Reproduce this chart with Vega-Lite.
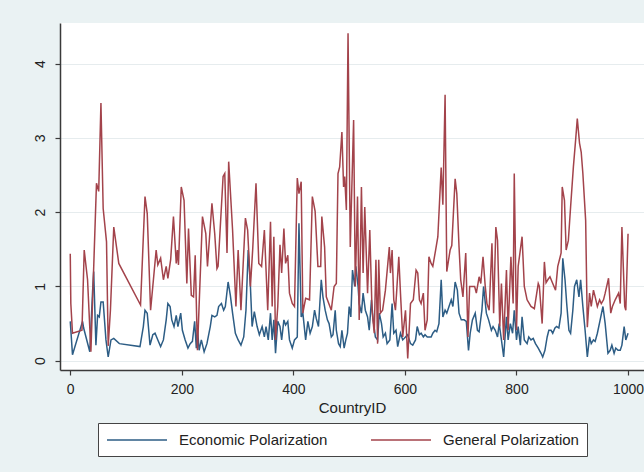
{
  "$schema": "https://vega.github.io/schema/vega-lite/v6.json",
  "width": 584,
  "height": 347,
  "autosize": {"type": "none"},
  "padding": {"left": 60, "top": 23, "right": 0, "bottom": 102},
  "background": "#eaf2f3",
  "config": {
    "view": {"fill": "white", "stroke": null},
    "font": "Liberation Sans"
  },
  "datasets": {
    "econ": [
      {"id":0,"v":0.53},{"id":4,"v":0.08},{"id":22,"v":0.53},{"id":24,"v":0.44},{"id":35,"v":0.12},{"id":40,"v":0.93},{"id":42,"v":1.2},{"id":46,"v":0.21},{"id":49,"v":0.61},{"id":52,"v":0.59},{"id":55,"v":0.79},{"id":59,"v":0.79},{"id":64,"v":0.28},{"id":68,"v":0.05},{"id":73,"v":0.28},{"id":78,"v":0.3},{"id":88,"v":0.23},{"id":125,"v":0.19},{"id":131,"v":0.46},{"id":134,"v":0.68},{"id":138,"v":0.64},{"id":143,"v":0.21},{"id":148,"v":0.35},{"id":152,"v":0.37},{"id":157,"v":0.28},{"id":162,"v":0.19},{"id":167,"v":0.28},{"id":172,"v":0.55},{"id":175,"v":0.77},{"id":179,"v":0.73},{"id":182,"v":0.55},{"id":186,"v":0.46},{"id":190,"v":0.61},{"id":193,"v":0.46},{"id":198,"v":0.64},{"id":201,"v":0.41},{"id":206,"v":0.28},{"id":211,"v":0.17},{"id":215,"v":0.23},{"id":219,"v":0.26},{"id":223,"v":0.53},{"id":226,"v":0.17},{"id":228,"v":0.44},{"id":231,"v":0.14},{"id":235,"v":0.28},{"id":240,"v":0.12},{"id":245,"v":0.23},{"id":251,"v":0.46},{"id":254,"v":0.61},{"id":259,"v":0.59},{"id":263,"v":0.61},{"id":266,"v":0.73},{"id":271,"v":0.77},{"id":275,"v":0.68},{"id":278,"v":0.73},{"id":283,"v":1.06},{"id":287,"v":0.88},{"id":291,"v":0.64},{"id":296,"v":0.37},{"id":301,"v":0.28},{"id":306,"v":0.21},{"id":311,"v":0.32},{"id":315,"v":0.68},{"id":319,"v":1.49},{"id":323,"v":1.0},{"id":326,"v":0.46},{"id":330,"v":0.66},{"id":335,"v":0.46},{"id":339,"v":0.35},{"id":344,"v":0.46},{"id":348,"v":0.32},{"id":351,"v":0.46},{"id":355,"v":0.28},{"id":359,"v":0.64},{"id":362,"v":0.28},{"id":365,"v":0.55},{"id":368,"v":0.1},{"id":372,"v":0.53},{"id":376,"v":0.46},{"id":379,"v":0.28},{"id":383,"v":0.55},{"id":386,"v":0.48},{"id":390,"v":0.53},{"id":393,"v":0.28},{"id":398,"v":0.17},{"id":402,"v":0.28},{"id":407,"v":0.32},{"id":410,"v":1.85},{"id":414,"v":0.59},{"id":417,"v":0.64},{"id":422,"v":0.28},{"id":426,"v":0.53},{"id":430,"v":0.37},{"id":434,"v":0.46},{"id":438,"v":0.68},{"id":441,"v":0.57},{"id":445,"v":0.46},{"id":450,"v":1.09},{"id":453,"v":0.86},{"id":457,"v":0.68},{"id":461,"v":0.55},{"id":464,"v":0.5},{"id":468,"v":0.32},{"id":471,"v":0.35},{"id":475,"v":0.68},{"id":477,"v":0.41},{"id":481,"v":0.23},{"id":484,"v":0.19},{"id":487,"v":0.41},{"id":491,"v":0.17},{"id":494,"v":0.28},{"id":497,"v":0.37},{"id":500,"v":0.73},{"id":503,"v":0.59},{"id":506,"v":1.22},{"id":510,"v":1.0},{"id":512,"v":1.27},{"id":516,"v":1.0},{"id":518,"v":0.77},{"id":522,"v":0.64},{"id":525,"v":0.91},{"id":529,"v":0.68},{"id":533,"v":0.59},{"id":536,"v":0.41},{"id":540,"v":0.82},{"id":543,"v":0.55},{"id":547,"v":0.32},{"id":551,"v":0.28},{"id":554,"v":0.64},{"id":558,"v":0.5},{"id":561,"v":0.32},{"id":565,"v":0.37},{"id":568,"v":0.23},{"id":573,"v":0.28},{"id":577,"v":0.77},{"id":580,"v":0.37},{"id":584,"v":0.41},{"id":587,"v":0.19},{"id":592,"v":0.37},{"id":596,"v":0.28},{"id":601,"v":0.32},{"id":605,"v":0.35},{"id":610,"v":0.23},{"id":614,"v":0.21},{"id":619,"v":0.28},{"id":622,"v":0.46},{"id":626,"v":0.35},{"id":629,"v":0.37},{"id":633,"v":0.32},{"id":636,"v":0.35},{"id":640,"v":0.32},{"id":643,"v":0.32},{"id":647,"v":0.32},{"id":650,"v":0.37},{"id":654,"v":0.41},{"id":657,"v":0.39},{"id":661,"v":0.5},{"id":665,"v":1.09},{"id":668,"v":0.59},{"id":672,"v":0.68},{"id":675,"v":0.64},{"id":679,"v":0.73},{"id":683,"v":0.82},{"id":686,"v":0.73},{"id":690,"v":1.06},{"id":694,"v":0.95},{"id":697,"v":0.64},{"id":701,"v":0.55},{"id":706,"v":0.55},{"id":710,"v":0.53},{"id":714,"v":0.14},{"id":717,"v":0.37},{"id":721,"v":0.55},{"id":726,"v":0.64},{"id":730,"v":0.41},{"id":733,"v":0.39},{"id":738,"v":0.68},{"id":741,"v":1.0},{"id":746,"v":0.64},{"id":750,"v":0.55},{"id":755,"v":0.41},{"id":758,"v":0.46},{"id":762,"v":0.41},{"id":766,"v":0.32},{"id":769,"v":0.5},{"id":773,"v":0.28},{"id":777,"v":0.05},{"id":782,"v":0.59},{"id":785,"v":0.28},{"id":789,"v":0.5},{"id":793,"v":0.37},{"id":796,"v":0.68},{"id":800,"v":0.28},{"id":803,"v":0.46},{"id":807,"v":0.21},{"id":810,"v":0.59},{"id":814,"v":0.28},{"id":819,"v":0.23},{"id":822,"v":0.32},{"id":826,"v":0.28},{"id":830,"v":0.3},{"id":834,"v":0.23},{"id":839,"v":0.17},{"id":844,"v":0.1},{"id":847,"v":0.05},{"id":851,"v":0.14},{"id":855,"v":0.32},{"id":858,"v":0.41},{"id":862,"v":0.41},{"id":865,"v":0.37},{"id":869,"v":0.44},{"id":872,"v":0.46},{"id":876,"v":0.44},{"id":880,"v":0.64},{"id":883,"v":1.38},{"id":887,"v":1.09},{"id":890,"v":0.77},{"id":894,"v":0.41},{"id":897,"v":0.37},{"id":901,"v":0.68},{"id":904,"v":1.0},{"id":908,"v":1.09},{"id":912,"v":0.86},{"id":915,"v":1.09},{"id":919,"v":0.73},{"id":923,"v":0.41},{"id":927,"v":0.05},{"id":931,"v":0.32},{"id":934,"v":0.23},{"id":938,"v":0.28},{"id":941,"v":0.26},{"id":945,"v":0.37},{"id":950,"v":0.55},{"id":955,"v":0.73},{"id":959,"v":0.5},{"id":964,"v":0.1},{"id":968,"v":0.14},{"id":971,"v":0.21},{"id":975,"v":0.1},{"id":978,"v":0.17},{"id":982,"v":0.14},{"id":986,"v":0.14},{"id":989,"v":0.21},{"id":993,"v":0.46},{"id":996,"v":0.28},{"id":1000,"v":0.37}
    ],
    "gen": [
      {"id":0,"v":1.44},{"id":1,"v":0.77},{"id":4,"v":0.37},{"id":21,"v":0.41},{"id":25,"v":1.49},{"id":31,"v":1.09},{"id":37,"v":0.12},{"id":47,"v":2.39},{"id":51,"v":2.28},{"id":55,"v":3.47},{"id":59,"v":2.05},{"id":65,"v":1.6},{"id":68,"v":0.2},{"id":72,"v":0.68},{"id":78,"v":1.8},{"id":87,"v":1.31},{"id":126,"v":0.75},{"id":134,"v":2.21},{"id":138,"v":1.98},{"id":144,"v":0.68},{"id":154,"v":1.49},{"id":157,"v":1.29},{"id":162,"v":1.38},{"id":167,"v":1.09},{"id":172,"v":1.27},{"id":175,"v":1.11},{"id":180,"v":1.36},{"id":185,"v":1.94},{"id":190,"v":1.31},{"id":192,"v":1.49},{"id":194,"v":1.29},{"id":199,"v":2.34},{"id":204,"v":2.16},{"id":209,"v":1.04},{"id":212,"v":1.78},{"id":217,"v":0.88},{"id":221,"v":0.86},{"id":224,"v":1.42},{"id":228,"v":0.14},{"id":237,"v":1.94},{"id":243,"v":1.71},{"id":246,"v":1.27},{"id":254,"v":2.12},{"id":259,"v":1.71},{"id":263,"v":1.24},{"id":265,"v":1.27},{"id":274,"v":2.48},{"id":277,"v":2.52},{"id":281,"v":1.45},{"id":284,"v":2.68},{"id":291,"v":1.76},{"id":297,"v":0.73},{"id":301,"v":1.49},{"id":306,"v":0.68},{"id":314,"v":1.92},{"id":318,"v":1.76},{"id":323,"v":1.0},{"id":327,"v":1.49},{"id":333,"v":2.39},{"id":338,"v":1.31},{"id":343,"v":1.27},{"id":348,"v":1.76},{"id":354,"v":0.68},{"id":359,"v":1.87},{"id":362,"v":0.73},{"id":365,"v":1.67},{"id":368,"v":0.28},{"id":372,"v":0.73},{"id":376,"v":1.56},{"id":379,"v":1.18},{"id":383,"v":1.78},{"id":386,"v":1.31},{"id":390,"v":1.42},{"id":393,"v":0.91},{"id":398,"v":0.77},{"id":402,"v":0.73},{"id":407,"v":2.46},{"id":410,"v":2.25},{"id":414,"v":2.41},{"id":417,"v":0.64},{"id":422,"v":0.84},{"id":429,"v":0.82},{"id":434,"v":2.21},{"id":439,"v":2.01},{"id":444,"v":1.27},{"id":449,"v":1.27},{"id":451,"v":1.94},{"id":456,"v":1.53},{"id":459,"v":0.86},{"id":468,"v":0.68},{"id":473,"v":1.0},{"id":477,"v":1.04},{"id":480,"v":2.52},{"id":483,"v":2.61},{"id":487,"v":3.08},{"id":490,"v":2.34},{"id":492,"v":2.48},{"id":495,"v":2.03},{"id":498,"v":4.41},{"id":502,"v":1.53},{"id":508,"v":3.24},{"id":511,"v":1.0},{"id":515,"v":2.21},{"id":518,"v":0.55},{"id":522,"v":2.34},{"id":525,"v":1.18},{"id":528,"v":2.07},{"id":533,"v":0.91},{"id":537,"v":1.76},{"id":541,"v":0.68},{"id":545,"v":0.37},{"id":548,"v":1.36},{"id":551,"v":0.23},{"id":553,"v":1.36},{"id":556,"v":0.64},{"id":560,"v":0.68},{"id":565,"v":0.95},{"id":572,"v":1.53},{"id":574,"v":1.18},{"id":577,"v":1.49},{"id":580,"v":0.82},{"id":583,"v":0.68},{"id":585,"v":0.91},{"id":589,"v":1.4},{"id":592,"v":0.91},{"id":596,"v":0.32},{"id":601,"v":0.68},{"id":605,"v":0.03},{"id":610,"v":0.77},{"id":615,"v":0.82},{"id":620,"v":1.22},{"id":623,"v":1.18},{"id":626,"v":0.82},{"id":629,"v":0.77},{"id":633,"v":0.91},{"id":636,"v":0.41},{"id":640,"v":0.55},{"id":643,"v":1.4},{"id":647,"v":1.31},{"id":650,"v":1.27},{"id":655,"v":1.49},{"id":659,"v":1.67},{"id":665,"v":2.6},{"id":668,"v":2.1},{"id":672,"v":3.58},{"id":675,"v":1.2},{"id":681,"v":1.49},{"id":684,"v":1.55},{"id":690,"v":2.45},{"id":693,"v":2.25},{"id":697,"v":1.53},{"id":700,"v":1.09},{"id":704,"v":0.86},{"id":709,"v":1.45},{"id":713,"v":0.32},{"id":716,"v":1.0},{"id":721,"v":1.0},{"id":725,"v":1.0},{"id":728,"v":0.91},{"id":733,"v":1.13},{"id":736,"v":1.04},{"id":740,"v":1.4},{"id":744,"v":1.0},{"id":747,"v":0.77},{"id":751,"v":0.68},{"id":756,"v":1.58},{"id":759,"v":0.64},{"id":763,"v":1.8},{"id":766,"v":1.62},{"id":770,"v":0.46},{"id":773,"v":1.04},{"id":777,"v":0.28},{"id":782,"v":1.22},{"id":785,"v":0.41},{"id":790,"v":1.4},{"id":794,"v":0.77},{"id":796,"v":2.52},{"id":800,"v":0.41},{"id":803,"v":1.27},{"id":810,"v":1.67},{"id":814,"v":1.0},{"id":819,"v":0.82},{"id":826,"v":0.73},{"id":832,"v":0.7},{"id":839,"v":1.04},{"id":841,"v":1.0},{"id":846,"v":0.5},{"id":850,"v":1.33},{"id":853,"v":1.05},{"id":857,"v":1.1},{"id":860,"v":1.13},{"id":865,"v":1.04},{"id":870,"v":0.95},{"id":874,"v":1.27},{"id":877,"v":1.36},{"id":880,"v":1.45},{"id":882,"v":2.34},{"id":886,"v":2.16},{"id":889,"v":1.49},{"id":893,"v":1.62},{"id":897,"v":2.07},{"id":902,"v":2.61},{"id":906,"v":2.97},{"id":909,"v":3.26},{"id":913,"v":2.93},{"id":916,"v":2.81},{"id":919,"v":2.52},{"id":924,"v":1.89},{"id":927,"v":0.45},{"id":931,"v":0.91},{"id":934,"v":0.73},{"id":938,"v":0.95},{"id":941,"v":0.86},{"id":945,"v":0.73},{"id":949,"v":0.82},{"id":952,"v":0.77},{"id":956,"v":0.82},{"id":959,"v":0.91},{"id":965,"v":1.11},{"id":969,"v":0.64},{"id":972,"v":0.73},{"id":977,"v":0.82},{"id":983,"v":0.91},{"id":986,"v":0.77},{"id":989,"v":1.8},{"id":994,"v":0.73},{"id":996,"v":0.68},{"id":1000,"v":1.71}
    ]
  },
  "encoding": {
    "x": {
      "field": "id", "type": "quantitative",
      "scale": {"domain": [-18.4, 1028.6], "nice": false, "zero": false},
      "axis": {
        "title": "CountryID", "values": [0, 200, 400, 600, 800, 1000], "format": "d", "grid": false,
        "domainColor": "#3a3a3a", "domainWidth": 1.5, "tickColor": "#3a3a3a", "tickWidth": 1.2, "tickSize": 5,
        "labelFontSize": 14, "labelColor": "#222222", "labelPadding": 7, "labelFlush": false,
        "titleFontSize": 15, "titleFontWeight": "normal", "titleColor": "#222222", "titlePadding": 4
      }
    },
    "y": {
      "field": "v", "type": "quantitative",
      "scale": {"domain": [-0.125, 4.547], "nice": false, "zero": false},
      "axis": {
        "title": null, "values": [0, 1, 2, 3, 4], "grid": true, "gridColor": "#e6ecee", "gridWidth": 1,
        "domainColor": "#3a3a3a", "domainWidth": 1.5, "tickColor": "#3a3a3a", "tickWidth": 1.2, "tickSize": 5,
        "labelAngle": -90, "labelAlign": "center", "labelBaseline": "bottom", "labelPadding": 8,
        "labelFontSize": 14, "labelColor": "#222222"
      }
    }
  },
  "layer": [
    {
      "data": {"name": "econ"},
      "mark": {"type": "line", "strokeWidth": 1.5},
      "encoding": {
        "color": {
          "datum": "Economic Polarization", "type": "nominal",
          "scale": {"domain": ["Economic Polarization", "General Polarization"], "range": ["#2d5d85", "#a3434b"]},
          "legend": {
            "orient": "none", "legendX": 38, "legendY": 400, "direction": "horizontal", "columns": 2,
            "title": null, "symbolType": "M-1,0H6.5", "symbolSize": 256, "symbolStrokeWidth": 1.5,
            "labelFontSize": 15, "labelColor": "#222222", "labelOffset": 55, "columnPadding": 40,
            "gridAlign": "all", "padding": 8, "strokeColor": "#444444", "fillColor": "white"
          }
        }
      }
    },
    {
      "data": {"name": "gen"},
      "mark": {"type": "line", "strokeWidth": 1.5},
      "encoding": {
        "color": {"datum": "General Polarization", "type": "nominal"}
      }
    }
  ]
}
